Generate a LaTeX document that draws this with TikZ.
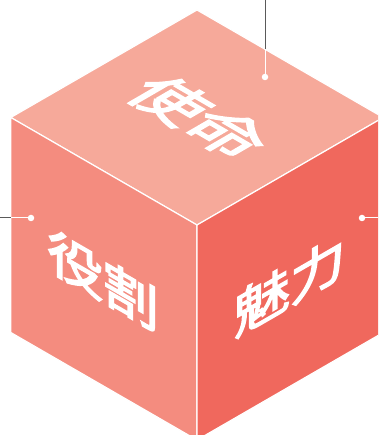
\documentclass[tikz,border=0pt]{standalone}
\usepackage{fontspec}
\newfontfamily\jpfont[FakeBold=3]{Noto Sans CJK JP}
\usepackage{tikz}

\definecolor{topface}{HTML}{F6A99A}
\definecolor{leftface}{HTML}{F48C7F}
\definecolor{rightface}{HTML}{F0685D}
\definecolor{leadgray}{HTML}{5A5A5A}

\begin{document}
\begin{tikzpicture}[x=1pt,y=1pt,
    face/.style={draw=white,line width=1.2pt,line join=round},
    facelabel/.style={text=white,inner sep=0pt,
        font=\jpfont\fontsize{51}{51}\selectfont},
    dot/.style={circle,fill=white,inner sep=0pt,minimum size=6.5pt},
    lead/.style={line width=1pt}]
        \useasboundingbox (0,0) rectangle (378,435);

        \coordinate (C) at (197,210);
        \coordinate (T) at (197,425);
        \coordinate (L) at (10.8,317.5);
        \coordinate (R) at (383.2,317.5);
        \coordinate (BL) at (10.8,102.5);
        \coordinate (BR) at (383.2,102.5);
        \coordinate (B) at (197,-5);

        \begin{scope}
            \clip (0,0) rectangle (378,435);
            \filldraw[face,fill=topface] (T) -- (R) -- (C) -- (L) -- cycle;
            \filldraw[face,fill=leftface] (L) -- (C) -- (B) -- (BL) -- cycle;
            \filldraw[face,fill=rightface] (C) -- (R) -- (BR) -- (B) -- cycle;
        \end{scope}

        \node[facelabel,cm={1.12,-0.65,1.0,0.58,(0,0)}] (shimei) at (199,318) {使命};
        \node[facelabel,cm={1.09,-0.63,0,1,(0,0)}] (yakuwari) at (103,155) {役割};
        \node[facelabel,cm={1.09,0.63,0,1,(0,0)}] (miryoku) at (290,150) {魅力};

        \node[dot] (topdot) at (265,358) {};
        \coordinate (topedge) at (265,385.7);
        \coordinate (topend) at (265,435);
        \draw[lead,leadgray] (topend) -- (topedge);
        \draw[lead,white] (topedge) -- (topdot);

        \node[dot] (leftdot) at (31,217) {};
        \coordinate (leftedge) at (10.8,217);
        \coordinate (leftend) at (0,217);
        \draw[lead,leadgray] (leftend) -- (leftedge);
        \draw[lead,white] (leftedge) -- (leftdot);

        \node[dot] (rightdot) at (362,217) {};
        \coordinate (rightend) at (378,217);
        \draw[lead,white] (rightdot) -- (rightend);
    \end{tikzpicture}
\end{document}
